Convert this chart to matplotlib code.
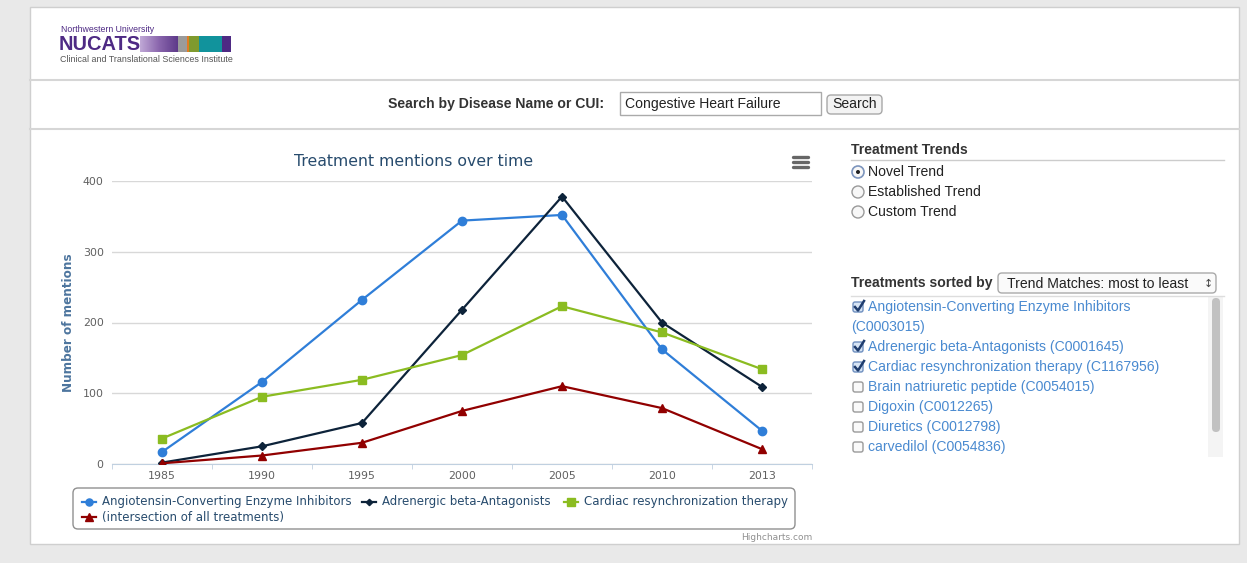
import matplotlib
matplotlib.use("Agg")
import matplotlib.pyplot as plt
from matplotlib.patches import Rectangle, FancyBboxPatch, Circle
import numpy as np

W, H = 1247, 563

years = ["1985", "1990", "1995", "2000", "2005", "2010", "2013"]
ace = [17, 116, 232, 344, 352, 162, 47]
beta = [2, 25, 58, 218, 378, 200, 109]
crt = [36, 95, 119, 154, 223, 186, 134]
intersection = [1, 12, 30, 75, 110, 79, 21]

series_names = ["Angiotensin-Converting Enzyme Inhibitors", "Adrenergic beta-Antagonists",
                "Cardiac resynchronization therapy", "(intersection of all treatments)"]
series_colors = ["#2f7ed8", "#0d233a", "#8bbc21", "#910000"]
series_markers = ["o", "D", "s", "^"]
series_msize = [6.0, 3.8, 6.0, 6.2]

trend_options = ["Novel Trend", "Established Trend", "Custom Trend"]
treatments = [("Angiotensin-Converting Enzyme Inhibitors", True),
              ("(C0003015)", None),
              ("Adrenergic beta-Antagonists (C0001645)", True),
              ("Cardiac resynchronization therapy (C1167956)", True),
              ("Brain natriuretic peptide (C0054015)", False),
              ("Digoxin (C0012265)", False),
              ("Diuretics (C0012798)", False),
              ("carvedilol (C0054836)", False)]


def px(p):
    return p * 0.72


fig = plt.figure(figsize=(W / 100, H / 100), dpi=100)
fig.patch.set_facecolor("#e9e9e9")
bg = fig.add_axes([0, 0, 1, 1])
bg.set_xlim(0, W)
bg.set_ylim(H, 0)
bg.axis("off")

html = "Liberation Sans"
hc = "DejaVu Sans"

# page panel
bg.add_patch(Rectangle((30, 7), 1209, 537, facecolor="white", edgecolor="#cfcfcf", lw=1))
bg.plot([30, 1239], [80, 80], color="#d6d6d6", lw=1.5)
bg.plot([30, 1239], [129, 129], color="#d6d6d6", lw=1.5)

# logo
bg.text(61, 29, "Northwestern University", fontsize=px(8.8), color="#4e2a84", family=html,
        va="center")
bg.text(59, 44.5, "NUCATS", fontsize=px(20), color="#4e2a84", family=html, weight="bold",
        va="center")
grad = np.linspace(0, 1, 60).reshape(1, -1)
bg.imshow(grad, extent=(140, 178, 52, 36), cmap=matplotlib.colors.LinearSegmentedColormap.from_list(
    "p", ["#c0a8d6", "#8a66ad", "#5e3a8a"]), aspect="auto", zorder=2)
for x0, x1, c in [(178, 187, "#9b9b9b"), (187, 189, "#e07b24"), (189, 199, "#7f9a2e"),
                  (199, 222, "#11939c"), (222, 231, "#4e2a84")]:
    bg.add_patch(Rectangle((x0, 36), x1 - x0, 16, facecolor=c, edgecolor="none", zorder=2))
bg.set_xlim(0, W)
bg.set_ylim(H, 0)
bg.text(60, 60, "Clinical and Translational Sciences Institute", fontsize=px(8.9), color="#555555",
        family=html, va="center")

# search row
bg.text(604, 104, "Search by Disease Name or CUI:", fontsize=px(14), weight="bold", color="#333333",
        family=html, ha="right", va="center")
bg.add_patch(Rectangle((620, 92), 201, 23, facecolor="white", edgecolor="#aaaaaa", lw=1))
bg.text(625, 104, "Congestive Heart Failure", fontsize=px(14), color="#222222", family=html, va="center")
bg.add_patch(FancyBboxPatch((827, 95), 55, 19, boxstyle="round,pad=0,rounding_size=4",
                            facecolor="#f3f3f3", edgecolor="#a8a8a8", lw=1))
bg.text(854.5, 104.5, "Search", fontsize=px(14), color="#222222", family=html, ha="center", va="center")

# chart
bg.text(414, 161, "Treatment mentions over time", fontsize=px(15.7), color="#274b6d", family=hc,
        ha="center", va="center")
for yy in (157, 162, 167):
    bg.plot([793, 808], [yy, yy], color="#666666", lw=2.4, solid_capstyle="round")
bg.text(68, 323, "Number of mentions", fontsize=px(12), color="#4d759e", weight="bold", family=hc,
        rotation=90, ha="center", va="center")

ax = fig.add_axes([112 / W, (H - 464) / H, 700 / W, 283 / H])
ax.patch.set_alpha(0)
x = np.arange(len(years))
for vals, name, col, mk, ms in zip([ace, beta, crt, intersection], series_names, series_colors,
                                   series_markers, series_msize):
    ax.plot(x, vals, color=col, lw=1.6, marker=mk, ms=ms, mec=col, label=name, zorder=3)
ax.set_xlim(-0.5, len(years) - 0.5)
ax.set_ylim(0, 400)
ax.set_yticks([0, 100, 200, 300, 400])
ax.set_xticks(x)
ax.set_xticklabels(years)
ax.set_xticks(np.arange(-0.5, len(years)), minor=True)
ax.grid(axis="y", color="#d8d8d8", lw=1)
ax.set_axisbelow(True)
for s in ["top", "right", "left"]:
    ax.spines[s].set_visible(False)
ax.spines["bottom"].set_color("#c0d0e0")
ax.tick_params(axis="y", length=0, pad=6, labelsize=px(11), labelcolor="#606060")
ax.tick_params(axis="x", which="major", length=0, pad=5, labelsize=px(11), labelcolor="#606060")
ax.tick_params(axis="x", which="minor", length=3.6, color="#c0d0e0")
for lab in ax.get_xticklabels() + ax.get_yticklabels():
    lab.set_family(hc)

# legend
bg.add_patch(FancyBboxPatch((73, 488), 722, 41, boxstyle="round,pad=0,rounding_size=5",
                            facecolor="none", edgecolor="#909090", lw=1))
leg_pos = [(82, 502), (362, 502), (564, 502), (82, 517)]
for (lx, ly), name, col, mk, ms in zip(leg_pos, series_names, series_colors, series_markers, series_msize):
    bg.plot([lx, lx + 14], [ly, ly], color=col, lw=1.6)
    bg.plot([lx + 7], [ly], marker=mk, color=col, ms=ms * 0.85)
    bg.text(lx + 20, ly, name, fontsize=px(11.8), color="#274b6d", family=hc, va="center")
bg.text(812, 537, "Highcharts.com", fontsize=px(9), color="#909090", family=hc, ha="right", va="center")

# right panel
bg.text(851, 150, "Treatment Trends", fontsize=px(14), weight="bold", color="#333333", family=html,
        va="center")
bg.plot([851, 1224], [160, 160], color="#cccccc", lw=1)
for i, opt in enumerate(trend_options):
    yy = 172 + 20 * i
    bg.add_patch(Circle((858, yy), 6, facecolor="#f7f7f7", edgecolor="#7d95bd" if i == 0 else "#9a9a9a",
                        lw=1.2 if i == 0 else 1))
    if i == 0:
        bg.add_patch(Circle((858, yy), 2, facecolor="#222222", edgecolor="none"))
    bg.text(868, yy, opt, fontsize=px(14), color="#222222", family=html, va="center")

bg.text(851, 283, "Treatments sorted by", fontsize=px(14), weight="bold", color="#333333", family=html,
        va="center")
bg.add_patch(FancyBboxPatch((998, 273), 218, 20, boxstyle="round,pad=0,rounding_size=4",
                            facecolor="#fafafa", edgecolor="#aaaaaa", lw=1))
bg.text(1007, 283.5, "Trend Matches: most to least", fontsize=px(14), color="#222222", family=html,
        va="center")
bg.text(1208, 283.5, "\u2195", fontsize=px(11), color="#444444", family="DejaVu Sans", ha="center",
        va="center")
bg.plot([851, 1224], [296, 296], color="#dddddd", lw=1)

# scrollbar
bg.add_patch(Rectangle((1208, 297), 15, 160, facecolor="#f4f4f4", edgecolor="none"))
bg.add_patch(FancyBboxPatch((1212, 298), 8, 134, boxstyle="round,pad=0,rounding_size=4",
                            facecolor="#c1c1c1", edgecolor="none"))

yy = 307
for label, checked in treatments:
    if checked is None:
        bg.text(851, yy, label, fontsize=px(14), color="#4a8ad0", family=html, va="center")
    else:
        bg.add_patch(FancyBboxPatch((853, yy - 5), 10, 10, boxstyle="round,pad=0,rounding_size=2",
                                    facecolor="#d6e4f5" if checked else "#fafafa",
                                    edgecolor="#6f8fbf" if checked else "#9a9a9a", lw=1))
        if checked:
            bg.plot([855, 858, 864], [yy, yy + 3.5, yy - 6], color="#1f3d6e", lw=1.8)
        bg.text(868, yy, label, fontsize=px(14), color="#4a8ad0", family=html, va="center")
    yy += 20

fig.savefig("out.png", dpi=100, facecolor=fig.get_facecolor())
